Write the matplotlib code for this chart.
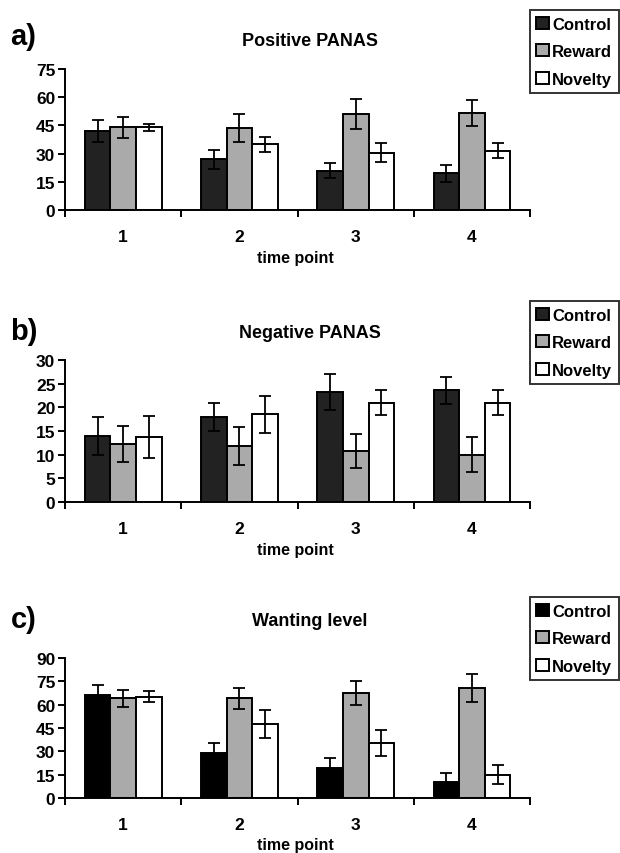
import matplotlib
matplotlib.use("Agg")
import matplotlib.pyplot as plt
import numpy as np

plt.rcParams["font.family"] = ["Liberation Sans", "DejaVu Sans"]
plt.rcParams["font.weight"] = "bold"

time_points = ["1", "2", "3", "4"]
groups = ["Control", "Reward", "Novelty"]

# a) Positive PANAS
pos_control = [42, 27, 21, 19.5]
pos_control_err = [6, 5, 4, 4.5]
pos_reward = [44, 43.5, 51, 51.5]
pos_reward_err = [5.5, 7.5, 8, 7]
pos_novelty = [44, 35, 30.5, 31.5]
pos_novelty_err = [2, 4, 5, 4]

# b) Negative PANAS
neg_control = [14, 18, 23.3, 23.6]
neg_control_err = [4, 3, 3.8, 2.9]
neg_reward = [12.3, 11.8, 10.8, 10]
neg_reward_err = [3.8, 4, 3.6, 3.7]
neg_novelty = [13.7, 18.5, 21, 21]
neg_novelty_err = [4.5, 3.9, 2.6, 2.7]

# c) Wanting level
want_control = [66, 29, 19.5, 10]
want_control_err = [6.5, 6.5, 6.5, 6]
want_reward = [64, 64, 67.5, 71]
want_reward_err = [5.5, 6.5, 8, 9]
want_novelty = [65, 47.5, 35.5, 15]
want_novelty_err = [3.5, 9, 8.5, 6]

H = 854.0
fig = plt.figure(figsize=(6.2, 8.54), dpi=100)


def panel(top_px, bottom_px, letter, letter_px, title, title_px, xlabel_px, ymax, ystep,
          series, errors, colors, legend_px):
    ax = fig.add_axes([0.105, 1 - bottom_px / H, 0.75, (bottom_px - top_px) / H])
    x = np.arange(1, len(time_points) + 1)
    width = 0.22
    offsets = [-width, 0, width]
    handles = []
    for vals, errs, col, off, name in zip(series, errors, colors, offsets, groups):
        b = ax.bar(x + off, vals, width, color=col, edgecolor="black", linewidth=1.4,
                   label=name, zorder=2)
        ax.errorbar(x + off, vals, yerr=errs, fmt="none", ecolor="black",
                    elinewidth=1.3, capsize=4, capthick=1.3, zorder=3)
        handles.append(b)
    ax.set_xlim(0.5, len(time_points) + 0.5)
    ax.set_ylim(0, ymax)
    ax.set_yticks(np.arange(0, ymax + 1, ystep))
    ax.set_xticks(np.arange(0.5, len(time_points) + 1, 1))
    ax.set_xticklabels([])
    ax.set_xticks(x, minor=True)
    ax.set_xticklabels(time_points, minor=True)
    ax.tick_params(axis="x", which="minor", length=0, pad=14, labelsize=12.5)
    ax.tick_params(axis="x", which="major", length=5, width=1.4, direction="out")
    ax.tick_params(axis="y", length=5, width=1.4, direction="out", pad=2, labelsize=12.5)
    for s in ["top", "right"]:
        ax.spines[s].set_visible(False)
    for s in ["left", "bottom"]:
        ax.spines[s].set_linewidth(1.4)
    for lab in ax.get_xticklabels(minor=True) + ax.get_yticklabels():
        lab.set_fontweight("bold")

    fig.text(0.017, 1 - letter_px / H, letter, fontsize=21, fontweight="bold", va="center")
    fig.text(0.5, 1 - title_px / H, title, fontsize=13, fontweight="bold",
             ha="center", va="center")
    fig.text(0.477, 1 - xlabel_px / H, "time point", fontsize=11.5, fontweight="bold",
             ha="center", va="center")
    leg = fig.legend(handles=handles, loc="upper right",
                     bbox_to_anchor=(0.998, 1 - legend_px / H),
                     frameon=True, fancybox=False, edgecolor="black", handlelength=0.75,
                     handleheight=0.75, handletextpad=0.2, labelspacing=0.75,
                     borderpad=0.4, borderaxespad=0, prop={"size": 12, "weight": "bold"})
    leg.get_frame().set_linewidth(1.4)
    return ax


panel(70, 211, "a)", 37, "Positive PANAS", 42, 258, 75, 15,
      [pos_control, pos_reward, pos_novelty],
      [pos_control_err, pos_reward_err, pos_novelty_err],
      ["#222222", "#aaaaaa", "white"], 11)

panel(361, 503, "b)", 332, "Negative PANAS", 334, 550, 30, 5,
      [neg_control, neg_reward, neg_novelty],
      [neg_control_err, neg_reward_err, neg_novelty_err],
      ["#222222", "#aaaaaa", "white"], 302)

panel(659, 799, "c)", 620, "Wanting level", 622, 846, 90, 15,
      [want_control, want_reward, want_novelty],
      [want_control_err, want_reward_err, want_novelty_err],
      ["black", "#aaaaaa", "white"], 598)

fig.savefig("out.png", dpi=100)
